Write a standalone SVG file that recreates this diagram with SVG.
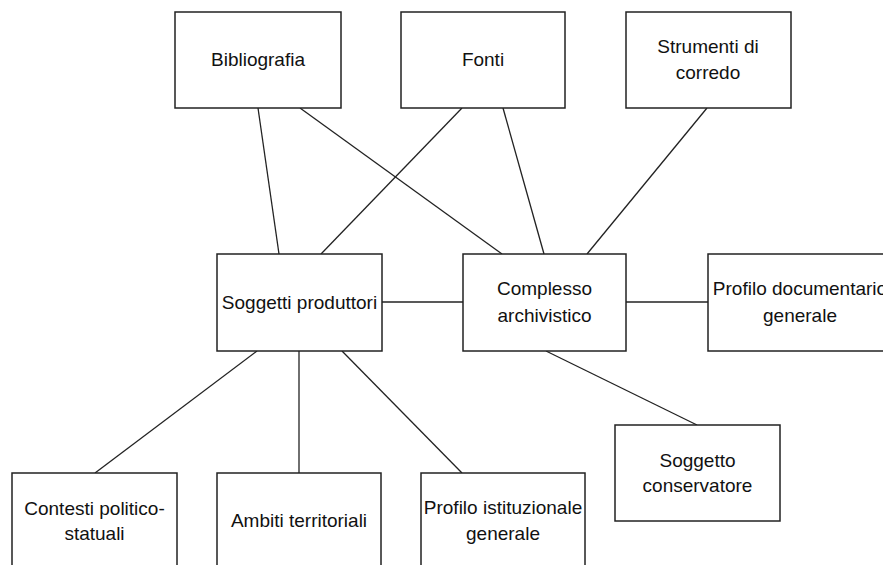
<svg xmlns="http://www.w3.org/2000/svg" width="883" height="565" viewBox="0 0 883 565">
<style>
.box{fill:#fff;stroke:#222;stroke-width:1.5}
.lbl{font-family:"Liberation Sans",Arial,sans-serif;font-size:19px;fill:#111;text-anchor:middle}
.con line{stroke:#222;stroke-width:1.3}
</style>
<rect width="883" height="565" fill="#fff"/>
<g id="connectors" class="con">
<line x1="258" y1="108" x2="279" y2="254"/>
<line x1="300" y1="108" x2="502" y2="254"/>
<line x1="462" y1="108" x2="321" y2="254"/>
<line x1="503" y1="108" x2="544" y2="254"/>
<line x1="707" y1="108" x2="587" y2="254"/>
<line x1="382" y1="302" x2="463" y2="302"/>
<line x1="626" y1="302" x2="708" y2="302"/>
<line x1="257" y1="351" x2="95" y2="473"/>
<line x1="299" y1="351" x2="299" y2="473"/>
<line x1="342" y1="351" x2="462" y2="473"/>
<line x1="546" y1="351" x2="697" y2="425"/>
</g>
<g id="bibliografia"><rect class="box" x="175" y="12" width="166" height="96"/><text class="lbl" x="258" y="66">Bibliografia</text></g>
<g id="fonti"><rect class="box" x="401" y="12" width="164" height="96"/><text class="lbl" x="483" y="66">Fonti</text></g>
<g id="strumenti"><rect class="box" x="626" y="12" width="165" height="96"/><text class="lbl" x="708" y="53">Strumenti di</text><text class="lbl" x="708" y="79">corredo</text></g>
<g id="soggetti-produttori"><rect class="box" x="217" y="254" width="165" height="97"/><text class="lbl" x="299.5" y="309">Soggetti produttori</text></g>
<g id="complesso"><rect class="box" x="463" y="254" width="163" height="97"/><text class="lbl" x="544.5" y="295">Complesso</text><text class="lbl" x="544.5" y="322">archivistico</text></g>
<g id="profilo-documentario"><rect class="box" x="708" y="254" width="184" height="97"/><text class="lbl" x="800" y="295">Profilo documentario</text><text class="lbl" x="800" y="322">generale</text></g>
<g id="soggetto-conservatore"><rect class="box" x="615" y="425" width="165" height="96"/><text class="lbl" x="697.5" y="467">Soggetto</text><text class="lbl" x="697.5" y="492">conservatore</text></g>
<g id="contesti"><rect class="box" x="12" y="473" width="165" height="97"/><text class="lbl" x="94.5" y="515">Contesti politico-</text><text class="lbl" x="94.5" y="540">statuali</text></g>
<g id="ambiti"><rect class="box" x="217" y="473" width="164" height="97"/><text class="lbl" x="299" y="527">Ambiti territoriali</text></g>
<g id="profilo-istituzionale"><rect class="box" x="421" y="473" width="164" height="97"/><text class="lbl" x="503" y="514">Profilo istituzionale</text><text class="lbl" x="503" y="540">generale</text></g>
</svg>
